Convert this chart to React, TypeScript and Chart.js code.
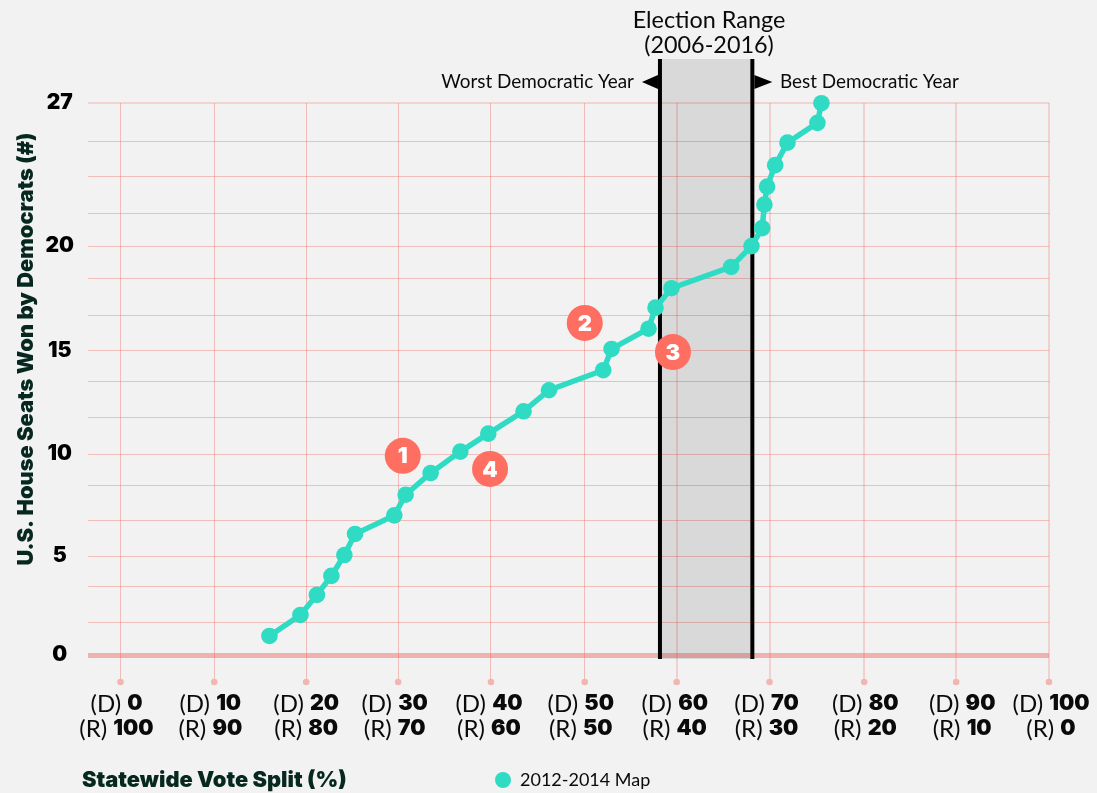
import React, { useEffect, useRef } from "react";
import { Chart, registerables } from "chart.js";

Chart.register(...registerables);

const seriesName = "2012-2014 Map";
const voteShare = [16.04, 19.38, 21.15, 22.71, 24.11, 25.26, 29.49, 30.71, 33.4, 36.6, 39.61, 43.41, 46.15, 51.99, 52.89, 56.87, 57.62, 59.34, 65.77, 67.96, 69.11, 69.35, 69.64, 70.51, 71.83, 75.06, 75.49];
const seatsWon = [0.93, 1.96, 2.94, 3.87, 4.89, 5.92, 6.83, 7.84, 8.9, 9.95, 10.83, 11.92, 12.95, 13.93, 14.97, 15.96, 16.99, 17.94, 18.98, 20, 20.88, 22.03, 22.91, 23.96, 25.06, 26.03, 26.99];
const xTickValues = [0, 10.1, 20, 29.9, 39.9, 50, 59.9, 69.9, 80.1, 90, 100];
const demLabels = ["0", "10", "20", "30", "40", "50", "60", "70", "80", "90", "100"];
const repLabels = ["100", "90", "80", "70", "60", "50", "40", "30", "20", "10", "0"];
const yTickValues = [0, 1.57, 3.33, 4.84, 6.56, 8.3, 9.83, 11.6, 13.36, 14.9, 16.6, 18.4, 20, 21.6, 23.4, 25.1, 27];
const yTickLabels = ["0", "", "", "5", "", "", "10", "", "", "15", "", "", "20", "", "", "", "27"];
const electionRange = [58.1, 68.05];
const calloutX = [30.4, 50, 59.5, 39.8];
const calloutY = [9.74, 16.24, 14.82, 9.1];
const calloutLabels = ["1", "2", "3", "4"];
const yTitle = "U.S. House Seats Won by Democrats (#)";
const xTitle = "Statewide Vote Split (%)";
const rangeTitle = ["Election Range", "(2006-2016)"];
const worstLabel = "Worst Democratic Year";
const bestLabel = "Best Democratic Year";

const FAMILY = "Lato, 'Open Sans', sans-serif";
const HEAVY = "Inter, 'Noto Sans', sans-serif";
const INK = "#0a0a0a";
const TITLE_INK = "#06281f";
const TEAL = "#30dbc4";
const CORAL = "#ff6f61";
const DOT_Y = 682;
const labelNudge = [-4, -4, 0, -3.5, -2, -4, -2, -3, 1, 6, 2];

const annotations = {
  id: "annotations",
  beforeDatasetsDraw(chart: any) {
    const { ctx, scales } = chart;
    const x0 = scales.x.getPixelForValue(electionRange[0]);
    const x1 = scales.x.getPixelForValue(electionRange[1]);
    const top = 59;
    const bottom = 659;
    ctx.save();
    ctx.fillStyle = "rgba(0,0,0,0.1)";
    ctx.fillRect(x0, top, x1 - x0, bottom - top);
    ctx.fillStyle = "#000";
    ctx.fillRect(x0 - 2, top, 4, bottom - top);
    ctx.fillRect(x1 - 2, top, 4, bottom - top);
    ctx.beginPath();
    ctx.moveTo(x0 - 2, 75);
    ctx.lineTo(x0 - 18, 82);
    ctx.lineTo(x0 - 2, 89);
    ctx.closePath();
    ctx.moveTo(x1 + 2, 75);
    ctx.lineTo(x1 + 20, 82);
    ctx.lineTo(x1 + 2, 89);
    ctx.closePath();
    ctx.fill();
    // Axis end dots
    ctx.fillStyle = "#f2b6b2";
    scales.x.ticks.forEach((t: any) => {
      ctx.beginPath();
      ctx.arc(scales.x.getPixelForValue(t.value), DOT_Y, 3.3, 0, Math.PI * 2);
      ctx.fill();
    });
    ctx.restore();
  },
  afterDraw(chart: any) {
    const { ctx, scales } = chart;
    ctx.save();
    ctx.textBaseline = "middle";
    // Split axis labels: regular party tag followed by a heavy number.
    const mixed = (tag: string, num: string, cx: number, y: number) => {
      const a = "400 24px " + FAMILY;
      const b = "900 21.5px " + HEAVY;
      ctx.textAlign = "left";
      ctx.font = a;
      const wa = ctx.measureText(tag + " ").width;
      ctx.font = b;
      const wb = ctx.measureText(num).width;
      const left = cx - (wa + wb) / 2;
      ctx.fillStyle = INK;
      ctx.font = a;
      ctx.fillText(tag + " ", left, y);
      ctx.font = b;
      ctx.fillText(num, left + wa, y);
    };
    scales.x.ticks.forEach((t: any, i: number) => {
      const cx = scales.x.getPixelForValue(t.value) + labelNudge[i];
      mixed("(D)", demLabels[i], cx, 704);
      mixed("(R)", repLabels[i], cx, 729);
    });
    // Callout numbers
    ctx.fillStyle = "#fff";
    ctx.textAlign = "center";
    ctx.font = "900 22px " + HEAVY;
    calloutLabels.forEach((s, i) => {
      ctx.fillText(s, scales.x.getPixelForValue(calloutX[i]), scales.y.getPixelForValue(calloutY[i]) + 1);
    });
    // Band labels
    ctx.fillStyle = INK;
    ctx.font = "400 23.4px " + FAMILY;
    ctx.fillText(rangeTitle[0], 709, 20);
    ctx.fillText(rangeTitle[1], 709, 45);
    ctx.font = "400 18.9px " + FAMILY;
    ctx.textAlign = "right";
    ctx.fillText(worstLabel, 634, 82);
    ctx.textAlign = "left";
    ctx.fillText(bestLabel, 780, 82);
    // Axis titles
    ctx.fillStyle = TITLE_INK;
    ctx.font = "900 21.8px " + HEAVY;
    ctx.fillText(xTitle, 82, 780);
    ctx.translate(26, 349);
    ctx.rotate(-Math.PI / 2);
    ctx.textAlign = "center";
    ctx.fillText(yTitle, 0, 0);
    ctx.restore();
  },
  afterLayout(chart: any) {
    const l = chart.legend;
    if (!l) return;
    l.left = 487;
    l.right = 700;
    l.top = 763;
    l.bottom = 793;
  },
};

export default function App() {
  const ref = useRef<HTMLCanvasElement>(null);
  useEffect(() => {
    const chart = new Chart(ref.current as HTMLCanvasElement, {
      type: "line",
      data: {
        datasets: [
          {
            label: seriesName,
            data: voteShare.map((x, i) => ({ x, y: seatsWon[i] })),
            borderColor: TEAL,
            backgroundColor: TEAL,
            borderWidth: 5.5,
            pointRadius: 8.3,
            pointBorderWidth: 0,
            pointStyle: "circle",
            tension: 0,
            clip: false,
            order: 2,
          },
          {
            label: "callouts",
            data: calloutX.map((x, i) => ({ x, y: calloutY[i] })),
            showLine: false,
            backgroundColor: CORAL,
            borderColor: CORAL,
            pointRadius: 18,
            pointBorderWidth: 0,
            clip: false,
            order: 1,
          },
        ],
      } as any,
      options: {
        animation: false,
        responsive: false,
        layout: { padding: { top: 103, right: 48, left: 0, bottom: 0 } },
        plugins: {
          tooltip: { enabled: false },
          title: { display: false },
          legend: {
            display: true,
            position: "chartArea",
            align: "start",
            labels: {
              filter: (item: any) => item.datasetIndex === 0,
              usePointStyle: true,
              boxHeight: 11.3,
              boxWidth: 16,
              pointStyleWidth: 16,
              padding: 8,
              color: INK,
              font: { family: FAMILY, size: 18, weight: "400" },
            },
          },
        } as any,
        scales: {
          x: {
            type: "linear",
            min: -3.5,
            max: 100,
            afterBuildTicks: (s: any) => {
              s.ticks = xTickValues.map((value) => ({ value }));
            },
            afterFit: (s: any) => {
              s.height = 138;
            },
            border: { display: false },
            grid: {
              color: (c: any) => (c.tick?.value > 55 ? "rgba(236,90,80,0.22)" : "rgba(236,90,80,0.36)"),
              tickColor: (c: any) => (c.tick?.value > 55 ? "rgba(236,90,80,0.22)" : "rgba(236,90,80,0.36)"),
              lineWidth: (c: any) => (c.tick?.value > 55 ? 2 : 1),
              tickWidth: (c: any) => (c.tick?.value > 55 ? 2 : 1),
              tickLength: 25,
              drawTicks: true,
            },
            ticks: { display: false },
          },
          y: {
            type: "linear",
            min: 0,
            max: 27,
            afterBuildTicks: (s: any) => {
              s.ticks = yTickValues.map((value) => ({ value }));
            },
            afterFit: (s: any) => {
              s.width = 88;
            },
            border: { display: false },
            grid: {
              drawTicks: false,
              color: (c: any) => {
                const v = c.tick?.value;
                if (v === 0) return "rgba(236,100,90,0.45)";
                if (v === 27) return "rgba(236,100,90,0.22)";
                return "rgba(236,90,80,0.34)";
              },
              lineWidth: (c: any) => {
                const v = c.tick?.value;
                if (v === 0) return 5;
                if (v === 27) return 2;
                return 1;
              },
            },
            ticks: {
              autoSkip: false,
              padding: 14,
              crossAlign: "center",
              color: "#000",
              font: { family: HEAVY, size: 21, weight: "900" },
              callback: (_v: any, i: number) => yTickLabels[i],
            },
          },
        },
      } as any,
      plugins: [annotations],
    });
    return () => chart.destroy();
  }, []);
  return (
    <div style={{ position: "fixed", left: 0, top: 0, width: 1097, height: 793, background: "#f2f2f2" }}>
      <canvas ref={ref} width={1097} height={793} style={{ display: "block" }} />
    </div>
  );
}
